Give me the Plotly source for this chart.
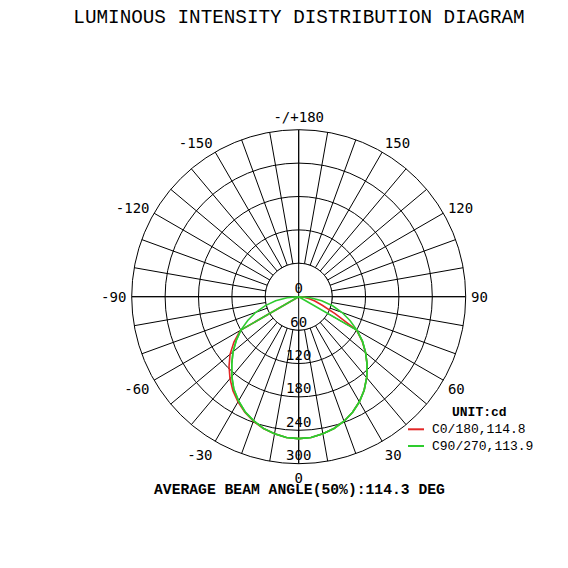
import plotly.graph_objects as go

# ---------------- data ----------------
title_text = "LUMINOUS INTENSITY DISTRIBUTION DIAGRAM"
footer_text = "AVERAGE BEAM ANGLE(50%):114.3 DEG"
unit_text = "UNIT:cd"

gamma = [-90, -85, -80, -75, -70, -65, -60, -55, -50, -45, -40, -35, -30, -25, -20, -15, -10, -5,
         0, 5, 10, 15, 20, 25, 30, 35, 40, 45, 50, 55, 60, 65, 70, 75, 80, 85, 90]

# C0/180 plane (red)
c0_180 = [0, 0, 0, 0, 0, 0, 121, 142, 161, 177, 192, 206, 218, 229, 238, 245, 250, 254,
          255, 254, 250, 245, 238, 229, 218, 205, 190, 174, 157, 139, 120, 72, 45, 30, 18, 8, 0]

# C90/270 plane (green) - two half curves
c90 = [0, 21, 42, 62, 82, 101, 120, 137, 154, 170, 187, 203, 216, 228, 237, 245, 250, 254,
       255, 254, 250, 245, 238, 229, 218, 205, 190, 174, 157, 140, 121, 102, 83, 63, 42, 21, 0]
c270 = [0, 0, 0, 0, 0, 0, 120, 137, 154, 170, 187, 203, 216, 228, 237, 245, 250, 254,
        255, 254, 250, 245, 238, 229, 218, 205, 190, 174, 157, 140, 121, 0, 0, 0, 0, 0, 0]

series_names = ["C0/180,114.8", "C90/270,113.9"]
series_colors = ["#e32626", "#2ecc2e"]

radial_ticks = [0, 60, 120, 180, 240, 300]
radial_max = 300
angle_ticks = list(range(0, 360, 10))
angle_label_map = {0: "0", 30: "30", 60: "60", 90: "90", 120: "120", 150: "150",
                   180: "-/+180", 210: "-150", 240: "-120", 270: "-90", 300: "-60", 330: "-30"}
angle_labels = [angle_label_map.get(a, "") for a in angle_ticks]

# ---------------- figure ----------------
W = H = 568
mono = "Liberation Mono, Courier New, monospace"
sans_mono = "DejaVu Sans Mono, monospace"

fig = go.Figure()

# white disc covering spokes inside the first ring
circ_theta = list(range(0, 361, 2))
fig.add_trace(go.Scatterpolar(theta=circ_theta, r=[radial_ticks[1]] * len(circ_theta),
                              mode="lines", fill="toself", fillcolor="white",
                              line=dict(color="black", width=1), showlegend=False,
                              hoverinfo="skip"))
# main diameters (0-180 and 90-270)
fig.add_trace(go.Scatterpolar(theta=[0, 180, None, 90, 270],
                              r=[radial_max, radial_max, None, radial_max, radial_max],
                              mode="lines", line=dict(color="black", width=1),
                              showlegend=False, hoverinfo="skip", connectgaps=False))

# curves
fig.add_trace(go.Scatterpolar(theta=gamma, r=c0_180, mode="lines",
                              line=dict(color=series_colors[0], width=1.6),
                              name=series_names[0], showlegend=False))
fig.add_trace(go.Scatterpolar(theta=gamma, r=c270, mode="lines",
                              line=dict(color=series_colors[1], width=1.6),
                              showlegend=False))
fig.add_trace(go.Scatterpolar(theta=gamma, r=c90, mode="lines",
                              line=dict(color=series_colors[1], width=1.6),
                              name=series_names[1], showlegend=False))

# radial tick labels along the 0 direction
fig.add_trace(go.Scatterpolar(theta=[0] * len(radial_ticks), r=radial_ticks,
                              mode="text", text=[str(v) for v in radial_ticks],
                              textposition="top center",
                              textfont=dict(family=sans_mono, size=14, color="black"),
                              showlegend=False, hoverinfo="skip"))

fig.update_layout(
    width=W, height=H,
    margin=dict(l=0, r=0, t=0, b=0),
    paper_bgcolor="white",
    showlegend=False,
    polar=dict(
        domain=dict(x=[131.7 / W, 465.7 / W], y=[(H - 463.7) / H, (H - 129.7) / H]),
        bgcolor="white",
        radialaxis=dict(range=[0, radial_max], tickmode="array", tickvals=radial_ticks[1:],
                        showticklabels=False, ticks="", showline=False,
                        gridcolor="black", gridwidth=1, layer="below traces"),
        angularaxis=dict(rotation=-90, direction="counterclockwise",
                         tickmode="array", tickvals=angle_ticks, ticktext=angle_labels,
                         ticks="outside", ticklen=2, tickcolor="rgba(0,0,0,0)",
                         showline=True, linecolor="black", linewidth=1,
                         gridcolor="black", gridwidth=1, layer="below traces",
                         tickfont=dict(family=sans_mono, size=14, color="black")),
    ),
    title=dict(text=title_text, x=299 / W, y=1 - 16 / H, xanchor="center", yanchor="middle",
               xref="paper", yref="container",
               font=dict(family=mono, size=19.3, color="black")),
)

# footer
fig.add_annotation(text="<b>" + footer_text + "</b>", x=299.5 / W, y=1 - 490 / H,
                   xref="paper", yref="paper", xanchor="center", yanchor="middle",
                   showarrow=False, font=dict(family=mono, size=14.7, color="black"))

# custom legend
fig.add_annotation(text="<b>" + unit_text + "</b>", x=479 / W, y=1 - 412.7 / H,
                   xref="paper", yref="paper", xanchor="center", yanchor="middle",
                   showarrow=False, font=dict(family=mono, size=13, color="black"))
for i, (nm, col) in enumerate(zip(series_names, series_colors)):
    yy = 1 - (429.3 + 16.7 * i) / H
    fig.add_shape(type="line", x0=408 / W, x1=424 / W, y0=yy, y1=yy,
                  xref="paper", yref="paper", line=dict(color=col, width=2))
    fig.add_annotation(text=nm, x=430 / W, y=yy, xref="paper", yref="paper",
                       xanchor="left", yanchor="middle", showarrow=False,
                       font=dict(family=mono, size=13, color="black"))

fig.write_html("out.html")
